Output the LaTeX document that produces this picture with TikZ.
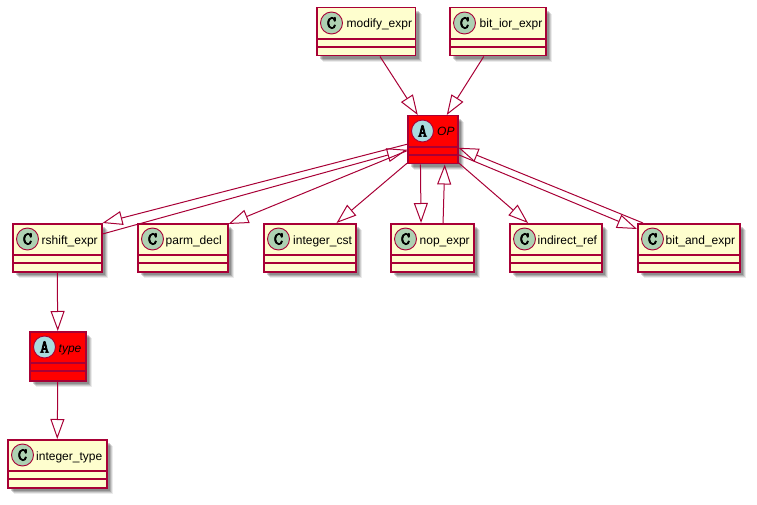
\documentclass[tikz,border=0pt]{standalone}
\usepackage{fontspec}
\setmainfont{Liberation Sans}
\newfontfamily\badgefont[FakeBold=4]{Latin Modern Mono}
\usetikzlibrary{arrows.meta,shadows,calc}
\definecolor{umlline}{HTML}{A80036}
\definecolor{umlfill}{HTML}{FEFECE}
\definecolor{umlclass}{HTML}{ADD1B2}
\definecolor{umlabs}{HTML}{A9DCDF}
\tikzset{
  softshadow/.style={
    general shadow={shadow xshift=6.5pt,shadow yshift=-6.5pt,fill=black,draw=none,opacity=.08},
    general shadow={shadow xshift=5.5pt,shadow yshift=-5.5pt,fill=black,draw=none,opacity=.12},
    general shadow={shadow xshift=4.5pt,shadow yshift=-4.5pt,fill=black,draw=none,opacity=.16},
    general shadow={shadow xshift=3.5pt,shadow yshift=-3.5pt,fill=black,draw=none,opacity=.18}},
  classbox/.style={draw=umlline,line width=1.5pt,fill=umlfill,softshadow,inner sep=0pt,anchor=north west},
  redbox/.style={classbox,fill=red},
  badge/.style={circle,draw=umlline,line width=.9pt,minimum size=22pt,inner sep=0pt},
  badgec/.style={badge,fill=umlclass},
  badgea/.style={badge,fill=umlabs},
  label/.style={font=\fontsize{12}{12}\selectfont,anchor=base west,inner sep=0pt},
  rowline/.style={draw=umlline,line width=1.5pt},
  gen/.style={draw=umlline,line width=1pt,-{Triangle[open,length=20pt,width=14pt,fill=none]}}
}
\newcommand{\umlbox}[8]{%
  % style, name, x, y, width, height, badge style, badge letter
  \node[#1,minimum width=#5pt,minimum height=#6pt] (#2) at (#3,#4) {};
  \draw[rowline] ($(#2.north west)+(0,32)$) -- ($(#2.north east)+(0,32)$);
  \draw[rowline] ($(#2.north west)+(0,40)$) -- ($(#2.north east)+(0,40)$);
  \node[#7] (#2b) at ($(#2.north west)+(15.5,16)$) {\badgefont\fontsize{18}{18}\selectfont #8};
}
\begin{document}
\begin{tikzpicture}[x=1pt,y=-1pt]
\useasboundingbox (0,0) rectangle (757,505);
\umlbox{classbox}{modify}{316}{7}{98.5}{48}{badgec}{C}
\node[label] (modifyt) at (346.5,28) {modify\_expr};
\umlbox{classbox}{ior}{449}{7}{96}{48}{badgec}{C}
\node[label] (iort) at (479.5,28) {bit\_ior\_expr};
\umlbox{redbox}{op}{407}{115}{50}{48}{badgea}{A}
\node[label,font=\fontsize{12}{12}\selectfont\itshape] (opt) at (437,136) {OP};
\umlbox{classbox}{rshift}{12}{223}{89}{48}{badgec}{C}
\node[label] (rshiftt) at (41.5,244) {rshift\_expr};
\umlbox{classbox}{parm}{137}{223}{90}{48}{badgec}{C}
\node[label] (parmt) at (165.5,244) {parm\_decl};
\umlbox{classbox}{cst}{263}{223}{92}{48}{badgec}{C}
\node[label] (cstt) at (293,244) {integer\_cst};
\umlbox{classbox}{nop}{390}{223}{83}{48}{badgec}{C}
\node[label] (nopt) at (419.5,244) {nop\_expr};
\umlbox{classbox}{ind}{509}{223}{92}{48}{badgec}{C}
\node[label] (indt) at (537.5,244) {indirect\_ref};
\umlbox{classbox}{band}{637}{223}{102}{48}{badgec}{C}
\node[label] (bandt) at (665.5,244) {bit\_and\_expr};
\umlbox{redbox}{type}{29}{331}{56}{49}{badgea}{A}
\node[label,font=\fontsize{12}{12}\selectfont\itshape] (typet) at (58.5,352) {type};
\umlbox{classbox}{inttype}{7}{439}{99}{48}{badgec}{C}
\node[label] (inttypet) at (36,460) {integer\_type};
\draw[gen] ([xshift=14pt]modify.south) -- ([xshift=-15pt]op.north);
\draw[gen] ([xshift=-14pt]ior.south) -- ([xshift=14pt]op.north);
\draw[gen] ([yshift=-4.5pt]op.west) -- (rshift.north east);
\draw[gen] ([yshift=-11pt]rshift.north east) -- ([yshift=-10pt]op.west);
\draw[gen] ([yshift=-11pt]op.west) -- ([yshift=-1pt]parm.north east);
\draw[gen] ([yshift=-23.5pt]op.west) -- ([xshift=-20pt]cst.north east);
\draw[gen] ([xshift=-12.3pt]op.south) -- ([xshift=-11.2pt]nop.north);
\draw[gen] ([xshift=10.8pt]nop.north) -- ([xshift=12pt]op.south);
\draw[gen] ([yshift=-23pt]op.east) -- ([xshift=-27.7pt]ind.north);
\draw[gen] ([yshift=-15pt]op.east) -- ([yshift=-6pt]band.north west);
\draw[gen] ([xshift=6pt]band.north west) -- ([yshift=-8pt]op.east);
\draw[gen] (rshift.south) -- (type.north);
\draw[gen] (type.south) -- (inttype.north);
\end{tikzpicture}
\end{document}
